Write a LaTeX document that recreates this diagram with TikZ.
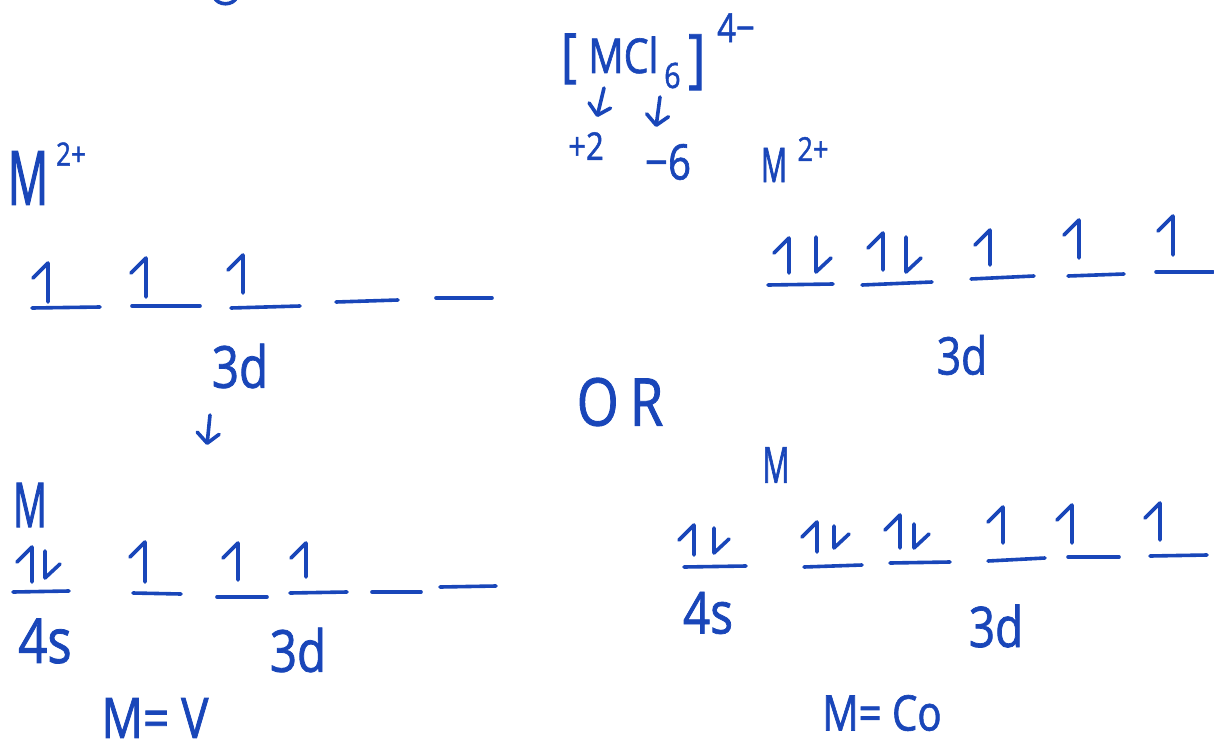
\documentclass[tikz,border=0pt]{standalone}
\usepackage{fontspec}
\usetikzlibrary{arrows.meta}
\newfontfamily\hand[FakeStretch=0.82,FakeBold=1.3]{Open Sans}
\newfontfamily\handn[FakeStretch=0.6,FakeBold=1.3]{Open Sans}
\definecolor{ink}{RGB}{25,70,185}
\tikzset{
  pen/.style={draw=ink, line width=3.6pt, line cap=round, line join=round},
  lbl/.style={text=ink, inner sep=0pt},
  hf/.style={lbl, font=\hand\fontsize{#1}{#1}\selectfont},
  mf/.style={lbl, font=\handn\fontsize{#1}{#1}\selectfont},
  uparr/.pic={\draw[pen] (0,0) -- (0,-#1) -- ++(-15,15);},
  dnarr/.pic={\draw[pen] (0,-#1) -- (0,0) -- ++(15,-14);},
  tip/.style={pen, -{Straight Barb[length=10pt,width=22pt,round]}},
}
\begin{document}
\begin{tikzpicture}[x=1pt, y={(0pt,-1pt)}]
\useasboundingbox (0,0) rectangle (1214,752);
% cut-off stroke at the top edge
\draw[pen] (214,-3) .. controls (218,6) and (233,6) .. (237,-3);

% ---------- left: M2+ ----------
\node[mf=75] (m2) at (28,178) {M};
\node[hf=32] (m2s) at (71,154) {2+};
\draw[pen] (32,308) -- (100,307);
\draw[pen] (132,306) -- (200,306);
\draw[pen] (231,308) -- (300,306);
\draw[pen] (336,302) -- (398,300);
\draw[pen] (436,298) -- (492,298);
\pic at (48,302) {uparr=39};
\pic at (146,297) {uparr=39};
\pic at (243,293) {uparr=38};
\node[hf=58] (d1) at (240,366) {3d};
\coordinate (a1s) at (210,415);
\coordinate (a1e) at (207,445);
\draw[tip] (a1s) -- (a1e);

% ---------- left: M ----------
\node[mf=62] (m1) at (30,505) {M};
\draw[pen] (13,592) -- (69,591);
\pic at (32,582) {uparr=35};
\pic at (45,578) {dnarr=27};
\draw[pen] (133,593) -- (181,594);
\draw[pen] (217,597) -- (267,597);
\draw[pen] (290,593) -- (347,592);
\draw[pen] (372,592) -- (421,592);
\draw[pen] (440,587) -- (496,586);
\pic at (145,582) {uparr=40};
\pic at (238,580) {uparr=37};
\pic at (306,577) {uparr=34};
\node[hf=62] (s1) at (45,641) {4s};
\node[hf=58] (d2) at (298,650) {3d};
\node[hf=56] (mv) at (155,718) {M= V};

% ---------- right: complex ----------
\node[hf=58, anchor=base west] (lb) at (561,75) {[};
\node[hf=48, anchor=base west] (mcl) at (588,73) {MCl};
\node[hf=35, anchor=base west] (sub) at (664,88) {6};
\node[hf=64, anchor=base west] (rb) at (688,80) {]};
\node[hf=40, anchor=base west] (chg) at (717,42) {4−};
\coordinate (b1s) at (604,88);
\coordinate (b1e) at (597,117);
\coordinate (b2s) at (660,97);
\coordinate (b2e) at (656,127);
\draw[tip] (b1s) -- (b1e);
\draw[tip] (b2s) -- (b2e);
\node[hf=38] (p2) at (586,146) {+2};
\node[hf=49] (n6) at (668,162) {−6};
\node[mf=48] (m3) at (774,165) {M};
\node[hf=33] (m3s) at (813,149) {2+};
\draw[pen] (768,285) -- (833,284);
\draw[pen] (862,285) -- (932,282);
\draw[pen] (971,279) -- (1034,276);
\draw[pen] (1068,276) -- (1124,274);
\draw[pen] (1156,272) -- (1213,272);
\pic at (789,273) {uparr=35};
\pic at (816,272) {dnarr=35};
\pic at (883,270) {uparr=37};
\pic at (906,272) {dnarr=35};
\pic at (990,265) {uparr=35};
\pic at (1079,258) {uparr=38};
\pic at (1173,255) {uparr=39};
\node[hf=52] (d3) at (962,355) {3d};
\node[hf=66] (or) at (620,402) {O\,R};

% ---------- right: M ----------
\node[mf=50] (m4) at (776,465) {M};
\draw[pen] (684,567) -- (746,566);
\pic at (694,555) {uparr=30};
\pic at (714,553) {dnarr=25};
\draw[pen] (804,567) -- (862,565);
\draw[pen] (890,563) -- (950,562);
\draw[pen] (988,561) -- (1045,558);
\draw[pen] (1068,557) -- (1119,557);
\draw[pen] (1150,556) -- (1207,555);
\pic at (817,552) {uparr=30};
\pic at (834,548) {dnarr=22};
\pic at (900,548) {uparr=33};
\pic at (914,548) {dnarr=24};
\pic at (1003,543) {uparr=36};
\pic at (1072,543) {uparr=38};
\pic at (1160,540) {uparr=37};
\node[hf=58] (s2) at (708,613) {4s};
\node[hf=56] (d4) at (996,626) {3d};
\node[hf=49] (mco) at (882,713) {M= Co};
\end{tikzpicture}
\end{document}
